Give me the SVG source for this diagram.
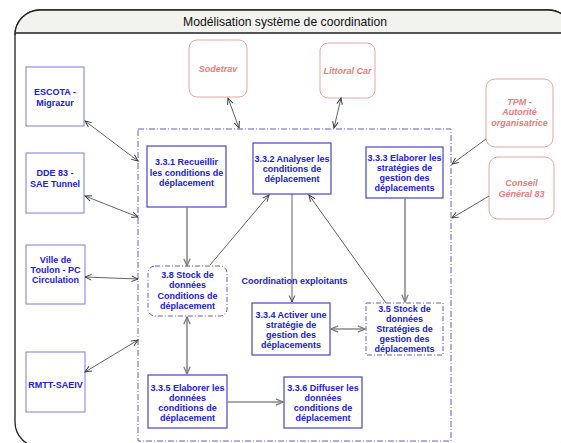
<svg xmlns="http://www.w3.org/2000/svg" width="561" height="443" viewBox="0 0 561 443">
<style>
.t{font-family:"Liberation Sans",Arial,sans-serif;font-size:9px;font-weight:bold;fill:#2020d8;text-anchor:middle}
.ext{font-family:"Liberation Sans",Arial,sans-serif;font-size:9px;font-weight:bold;font-style:italic;fill:#ea7b7b;text-anchor:middle}
.bx{fill:#fff;stroke:#4545c8;stroke-width:1.2}
.lx{fill:#fff;stroke:#7a7ae0;stroke-width:1}
.rx{fill:#fff;stroke:#eaa5a5;stroke-width:1}
.ds{fill:#fff;stroke:#6a5ad0;stroke-width:1;stroke-dasharray:5,2,1,2}
.thin{fill:none;stroke:#3a3a3a;stroke-width:0.8}
.gray{fill:none;stroke:#8a8a8a;stroke-width:1.6}
</style>
<defs>
<marker id="ad" viewBox="0 0 10 10" refX="9" refY="5" markerWidth="8" markerHeight="8" markerUnits="userSpaceOnUse" orient="auto-start-reverse">
<path d="M1,1.5 L9,5 L1,8.5" fill="none" stroke="#3a3a3a" stroke-width="1.2"/>
</marker>
<marker id="ag" viewBox="0 0 10 10" refX="9" refY="5" markerWidth="9" markerHeight="9" markerUnits="userSpaceOnUse" orient="auto-start-reverse">
<path d="M1,1.5 L9,5 L1,8.5" fill="none" stroke="#7a7a7a" stroke-width="1.4"/>
</marker>
</defs>
<rect width="561" height="443" fill="#fff"/>
<g id="frame">
<rect x="15" y="10" width="558" height="437" rx="25" ry="25" fill="#fff" stroke="#222" stroke-width="1.3"/>
<path d="M15,33 L15,35 A25,25 0 0 1 40,10 L548,10 A25,25 0 0 1 573,35 L573,33 Z" fill="#f2f3ee" stroke="#222" stroke-width="1.3"/>
<line x1="15.5" y1="33" x2="573" y2="33" stroke="#555" stroke-width="2"/>
<text x="285" y="26" font-family="'Liberation Sans',Arial,sans-serif" font-size="12.2" fill="#111" text-anchor="middle">Modélisation système de coordination</text>
</g>
<g id="boundary">
<rect x="138" y="129" width="313" height="312" fill="none" stroke="#6a5ad0" stroke-width="1" stroke-dasharray="6,2,1,2"/>
</g>
<g id="sodetrav"><rect class="rx" x="189" y="40" width="58" height="57" rx="8"/><text class="ext" x="218" y="72">Sodetrav</text></g>
<g id="littoral"><rect class="rx" x="320" y="43" width="55" height="55" rx="8"/><text class="ext" x="347.5" y="74">Littoral Car</text></g>
<g id="tpm"><rect class="rx" x="486" y="79" width="67" height="68" rx="9"/><text class="ext" x="519.5" y="105">TPM -</text><text class="ext" x="519.5" y="115">Autorité</text><text class="ext" x="519.5" y="126">organisatrice</text></g>
<g id="conseil"><rect class="rx" x="489" y="157" width="65" height="62" rx="9"/><text class="ext" x="521.5" y="186">Conseil</text><text class="ext" x="521.5" y="197">Général 83</text></g>
<g id="escota"><rect class="lx" x="26" y="67" width="58" height="59"/><text class="t" x="55" y="95">ESCOTA -</text><text class="t" x="55" y="106">Migrazur</text></g>
<g id="dde"><rect class="lx" x="26" y="153" width="58" height="60"/><text class="t" x="55" y="176">DDE 83 -</text><text class="t" x="55" y="187">SAE Tunnel</text></g>
<g id="ville"><rect class="lx" x="26" y="245" width="59" height="59"/><text class="t" x="55.5" y="263">Ville de</text><text class="t" x="55.5" y="273">Toulon - PC</text><text class="t" x="55.5" y="283">Circulation</text></g>
<g id="rmtt"><rect class="lx" x="26" y="352" width="59" height="60"/><text class="t" x="55.5" y="388">RMTT-SAEIV</text></g>
<g id="n331"><rect class="bx" x="147" y="146" width="79" height="61"/><text class="t" x="186.5" y="165">3.3.1 Recueillir</text><text class="t" x="186.5" y="176">les conditions de</text><text class="t" x="186.5" y="186">déplacement</text></g>
<g id="n332"><rect class="bx" x="253" y="143" width="78" height="51"/><text class="t" x="292" y="162">3.3.2 Analyser les</text><text class="t" x="292" y="172">conditions de</text><text class="t" x="292" y="182">déplacement</text></g>
<g id="n333"><rect class="bx" x="366" y="147" width="77" height="51"/><text class="t" x="404.5" y="161">3.3.3 Elaborer les</text><text class="t" x="404.5" y="171">stratégies de</text><text class="t" x="404.5" y="181">gestion des</text><text class="t" x="404.5" y="191">déplacements</text></g>
<g id="n38"><rect class="ds" x="148" y="266" width="79" height="50" rx="7"/><text class="t" x="187.5" y="278">3.8 Stock de</text><text class="t" x="187.5" y="288">données</text><text class="t" x="187.5" y="299">Conditions de</text><text class="t" x="187.5" y="309">déplacement</text></g>
<g id="n334"><rect class="bx" x="252" y="303" width="78" height="52"/><text class="t" x="291" y="318">3.3.4 Activer une</text><text class="t" x="291" y="328">stratégie de</text><text class="t" x="291" y="338">gestion des</text><text class="t" x="291" y="348">déplacements</text></g>
<g id="n35"><rect class="ds" x="366" y="303" width="77" height="52"/><text class="t" x="404.5" y="312">3.5 Stock de</text><text class="t" x="404.5" y="322">données</text><text class="t" x="404.5" y="332">Stratégies de</text><text class="t" x="404.5" y="342">gestion des</text><text class="t" x="404.5" y="352">déplacements</text></g>
<g id="n3335"><rect class="bx" x="148" y="375" width="79" height="53"/><text class="t" x="187.5" y="391">3.3.5 Elaborer les</text><text class="t" x="187.5" y="401">données</text><text class="t" x="187.5" y="411">conditions de</text><text class="t" x="187.5" y="421">déplacement</text></g>
<g id="n336"><rect class="bx" x="284" y="377" width="78" height="51"/><text class="t" x="323" y="391">3.3.6 Diffuser les</text><text class="t" x="323" y="401">données</text><text class="t" x="323" y="411">conditions de</text><text class="t" x="323" y="421">déplacement</text></g>
<g id="label"><text class="t" x="294.5" y="284">Coordination exploitants</text></g>
<g id="connectors">
<line class="thin" x1="85" y1="121" x2="138" y2="161" marker-start="url(#ad)" marker-end="url(#ad)"/>
<line class="thin" x1="85" y1="196" x2="138" y2="217" marker-start="url(#ad)" marker-end="url(#ad)"/>
<line class="thin" x1="85" y1="277" x2="138" y2="279" marker-start="url(#ad)" marker-end="url(#ad)"/>
<line class="thin" x1="85" y1="372" x2="138" y2="340" marker-start="url(#ad)" marker-end="url(#ad)"/>
<line class="thin" x1="228" y1="98" x2="239" y2="128" marker-start="url(#ad)" marker-end="url(#ad)"/>
<line class="thin" x1="341" y1="98" x2="334" y2="128" marker-start="url(#ad)" marker-end="url(#ad)"/>
<line class="thin" x1="486" y1="139" x2="452" y2="164" marker-end="url(#ad)"/>
<line class="thin" x1="489" y1="196" x2="452" y2="218" marker-end="url(#ad)"/>
<line class="gray" x1="187" y1="207" x2="187" y2="266" marker-end="url(#ag)"/>
<line class="thin" x1="210" y1="265" x2="269" y2="195" marker-end="url(#ad)"/>
<line class="thin" x1="292" y1="194" x2="292" y2="302" marker-end="url(#ad)"/>
<line class="thin" x1="386" y1="303" x2="309" y2="195" marker-end="url(#ad)"/>
<line class="gray" x1="405" y1="198" x2="405" y2="302" marker-end="url(#ag)"/>
<line class="gray" x1="331" y1="329" x2="365" y2="329" marker-start="url(#ag)" marker-end="url(#ag)"/>
<line class="gray" x1="187" y1="317" x2="187" y2="374" marker-start="url(#ag)" marker-end="url(#ag)"/>
<line class="gray" x1="227" y1="402" x2="283" y2="402" marker-end="url(#ag)"/>
</g>
</svg>
